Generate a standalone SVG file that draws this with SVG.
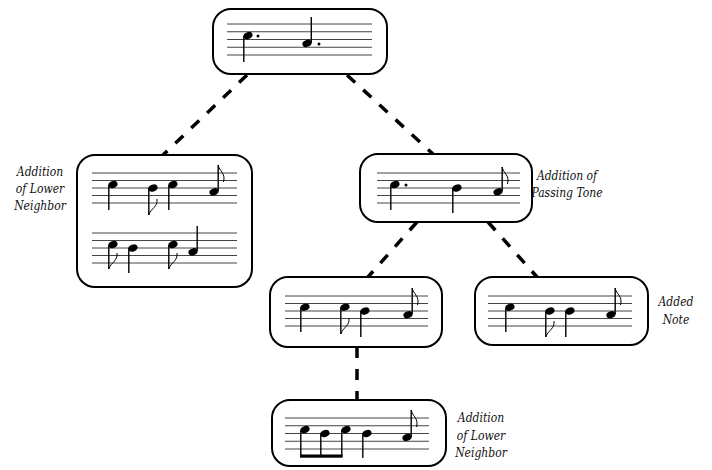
<svg xmlns="http://www.w3.org/2000/svg" xmlns:xlink="http://www.w3.org/1999/xlink" width="712" height="470" viewBox="0 0 712 470">
<style>
.box{fill:#fff;stroke:#000;stroke-width:2}
.staff{stroke:#444;stroke-width:1;fill:none}
.stem{stroke:#000;stroke-width:1.4}
.flag{fill:none;stroke:#000;stroke-width:1}
.beam{fill:#000}
.conn{stroke:#000;stroke-width:3.5;stroke-dasharray:11 11;fill:none}
text{font-family:'DejaVu Serif Condensed','DejaVu Serif',serif;font-stretch:condensed;font-style:italic;font-size:12px;text-anchor:middle;fill:#111}
</style>
<defs>
<ellipse id="h" cx="0" cy="0" rx="4.7" ry="3.4" transform="rotate(-22)" fill="#000"/>
</defs>
<rect width="712" height="470" fill="#fff"/>
<g id="connectors">
<line class="conn" x1="247" y1="75" x2="163" y2="155"/>
<line class="conn" x1="347" y1="75" x2="433" y2="154"/>
<line class="conn" x1="417" y1="222" x2="368" y2="277"/>
<line class="conn" x1="488" y1="222" x2="537" y2="277"/>
<line class="conn" x1="357" y1="347" x2="357" y2="400"/>
</g>
<g id="node-top">
<rect class="box" x="213" y="9" width="174" height="65" rx="18"/>
<path class="staff" d="M227,24H372M227,31.75H372M227,39.5H372M227,47.25H372M227,55H372"/>
<use xlink:href="#h" x="248" y="35.6"/>
<line class="stem" x1="243.8" y1="36" x2="243.8" y2="62"/>
<circle cx="258" cy="36" r="1.5"/>
<use xlink:href="#h" x="307" y="43.4"/>
<line class="stem" x1="311.3" y1="43" x2="311.3" y2="17"/>
<circle cx="319" cy="44" r="1.5"/>
</g>
<g id="node-lower-neighbor-1">
<rect class="box" x="77" y="155" width="175" height="132" rx="18"/>
<path class="staff" d="M92,173H237M92,180.5H237M92,188H237M92,195.5H237M92,203H237"/>
<use xlink:href="#h" x="113" y="184.5"/>
<line class="stem" x1="108.8" y1="185" x2="108.8" y2="210"/>
<use xlink:href="#h" x="153" y="188"/>
<line class="stem" x1="148.8" y1="188" x2="148.8" y2="215"/>
<path class="flag" d="M148.8,215C151,208 158,207 157,199"/>
<use xlink:href="#h" x="173" y="184.5"/>
<line class="stem" x1="168.8" y1="185" x2="168.8" y2="210"/>
<use xlink:href="#h" x="214" y="191.8"/>
<line class="stem" x1="218.2" y1="191" x2="218.2" y2="165"/>
<path class="flag" d="M218.2,165C219,171 226,173 223.5,182"/>
<path class="staff" d="M92,233H237M92,240.5H237M92,248H237M92,255.5H237M92,263H237"/>
<use xlink:href="#h" x="113" y="244.5"/>
<line class="stem" x1="108.8" y1="245" x2="108.8" y2="269"/>
<path class="flag" d="M108.8,269C111,262 118,261 117,253"/>
<use xlink:href="#h" x="133" y="248"/>
<line class="stem" x1="128.8" y1="248" x2="128.8" y2="273"/>
<use xlink:href="#h" x="173" y="244.5"/>
<line class="stem" x1="168.8" y1="245" x2="168.8" y2="269"/>
<path class="flag" d="M168.8,269C171,262 178,261 177,253"/>
<use xlink:href="#h" x="193" y="251.8"/>
<line class="stem" x1="197.2" y1="251" x2="197.2" y2="226"/>
<text x="40" y="176">Addition</text>
<text x="40" y="193">of Lower</text>
<text x="40" y="210">Neighbor</text>
</g>
<g id="node-passing-tone">
<rect class="box" x="360" y="154" width="172" height="68" rx="18"/>
<path class="staff" d="M377,173H520M377,180.5H520M377,188H520M377,195.5H520M377,203H520"/>
<use xlink:href="#h" x="395" y="184.5"/>
<line class="stem" x1="390.8" y1="185" x2="390.8" y2="210"/>
<circle cx="406" cy="185" r="1.5"/>
<use xlink:href="#h" x="457" y="188"/>
<line class="stem" x1="452.8" y1="188" x2="452.8" y2="213"/>
<use xlink:href="#h" x="498" y="191.8"/>
<line class="stem" x1="502.2" y1="191" x2="502.2" y2="167"/>
<path class="flag" d="M502.2,167C503,173 510,175 507.5,184"/>
<text x="567" y="180">Addition of</text>
<text x="567" y="197">Passing Tone</text>
</g>
<g id="node-passing-lower">
<rect class="box" x="270" y="277" width="172" height="70" rx="18"/>
<path class="staff" d="M285,296H428M285,303.5H428M285,311H428M285,318.5H428M285,326H428"/>
<use xlink:href="#h" x="305" y="307.2"/>
<line class="stem" x1="300.8" y1="307.5" x2="300.8" y2="332"/>
<use xlink:href="#h" x="345" y="307.2"/>
<line class="stem" x1="340.8" y1="307.5" x2="340.8" y2="334"/>
<path class="flag" d="M340.8,334C343,327 350,326 349,318"/>
<use xlink:href="#h" x="365" y="311"/>
<line class="stem" x1="360.8" y1="311" x2="360.8" y2="337"/>
<use xlink:href="#h" x="408" y="314.7"/>
<line class="stem" x1="412.2" y1="314" x2="412.2" y2="288"/>
<path class="flag" d="M412.2,288C413,294 420,296 417.5,305"/>
</g>
<g id="node-added-note">
<rect class="box" x="475" y="277" width="173" height="68" rx="18"/>
<path class="staff" d="M488,296H632M488,303.5H632M488,311H632M488,318.5H632M488,326H632"/>
<use xlink:href="#h" x="510" y="307.2"/>
<line class="stem" x1="505.8" y1="307.5" x2="505.8" y2="332"/>
<use xlink:href="#h" x="550" y="311"/>
<line class="stem" x1="545.8" y1="311" x2="545.8" y2="337"/>
<path class="flag" d="M545.8,337C548,330 555,329 554,321"/>
<use xlink:href="#h" x="570" y="311"/>
<line class="stem" x1="565.8" y1="311" x2="565.8" y2="337"/>
<use xlink:href="#h" x="611" y="314.7"/>
<line class="stem" x1="615.2" y1="314" x2="615.2" y2="288"/>
<path class="flag" d="M615.2,288C616,294 623,296 620.5,305"/>
<text x="676" y="306">Added</text>
<text x="676" y="324">Note</text>
</g>
<g id="node-bottom">
<rect class="box" x="272" y="400" width="174" height="66" rx="18"/>
<path class="staff" d="M285,418H429M285,425.75H429M285,433.5H429M285,441.25H429M285,449H429"/>
<use xlink:href="#h" x="305" y="429.6"/>
<line class="stem" x1="300.8" y1="430" x2="300.8" y2="457"/>
<use xlink:href="#h" x="325" y="433.5"/>
<line class="stem" x1="320.8" y1="433.5" x2="320.8" y2="457"/>
<use xlink:href="#h" x="346" y="429.6"/>
<line class="stem" x1="341.8" y1="430" x2="341.8" y2="457"/>
<rect class="beam" x="300.1" y="454.5" width="42.4" height="3.2"/>
<use xlink:href="#h" x="367" y="433.5"/>
<line class="stem" x1="362.8" y1="433.5" x2="362.8" y2="458"/>
<use xlink:href="#h" x="407" y="437.4"/>
<line class="stem" x1="411.2" y1="437" x2="411.2" y2="410"/>
<path class="flag" d="M411.2,410C412,416 419,418 416.5,427"/>
<text x="481" y="422">Addition</text>
<text x="481" y="440">of Lower</text>
<text x="481" y="457">Neighbor</text>
</g>
</svg>
